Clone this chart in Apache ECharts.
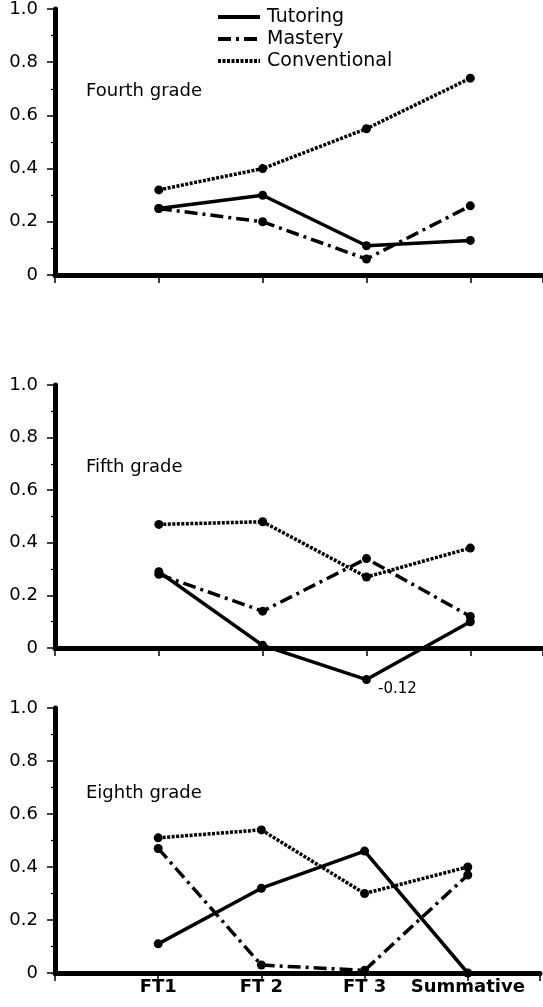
<!DOCTYPE html>
<html>
<head>
<meta charset="utf-8">
<script src="https://cdn.jsdelivr.net/npm/echarts@6/dist/echarts.min.js"></script>
<style>
  html, body { margin: 0; padding: 0; background: #fff; }
  #chart { width: 543px; height: 1007px; }
</style>
</head>
<body>
<div id="chart"></div>
<script>
// Time points on the x axis
const categories = ['FT1', 'FT 2', 'FT 3', 'Summative']
const groups = ['Tutoring', 'Mastery', 'Conventional']
const panelTitles = ['Fourth grade', 'Fifth grade', 'Eighth grade']

// Values per grade panel
const fourthTutoring = [0.25, 0.30, 0.11, 0.13]
const fourthMastery = [0.25, 0.20, 0.06, 0.26]
const fourthConventional = [0.32, 0.40, 0.55, 0.74]

const fifthTutoring = [0.29, 0.01, -0.12, 0.10]
const fifthMastery = [0.28, 0.14, 0.34, 0.12]
const fifthConventional = [0.47, 0.48, 0.27, 0.38]

const eighthTutoring = [0.11, 0.32, 0.46, 0.00]
const eighthMastery = [0.47, 0.03, 0.01, 0.37]
const eighthConventional = [0.51, 0.54, 0.30, 0.40]

const yTicks = [0, 0.2, 0.4, 0.6, 0.8, 1.0]

const panels = [
  [fourthTutoring, fourthMastery, fourthConventional],
  [fifthTutoring, fifthMastery, fifthConventional],
  [eighthTutoring, eighthMastery, eighthConventional],
]

const FONT = 'DejaVu Sans'
const lineStyles = {
  Tutoring: { color: '#000', width: 3.5, type: 'solid' },
  Mastery: { color: '#000', width: 3.5, type: [13, 5, 3, 5] },
  Conventional: { color: '#000', width: 3.5, type: [3, 1.5] },
}

// grid placement for the three stacked panels
const gridBoxes = [
  { top: 8, height: 267 },
  { top: 385, height: 263 },
  { top: 708, height: 265 },
]
const titleTops = [82, 458, 784]

const chart = echarts.init(document.getElementById('chart'))

const grids = gridBoxes.map(b => ({ left: 55, right: 0, top: b.top, height: b.height, containLabel: false }))

const xAxes = gridBoxes.map((b, i) => ({
  type: 'value',
  gridIndex: i,
  min: 0,
  max: 4.7,
  interval: 1,
  splitLine: { show: false },
  axisLine: { show: true, lineStyle: { color: '#000', width: 5 } },
  axisTick: { show: true, length: 8, lineStyle: { color: '#000', width: 1.5 } },
  axisLabel: {
    show: i === 2,
    margin: 5,
    color: '#000',
    fontFamily: FONT,
    fontSize: 18,
    fontWeight: 'bold',
    formatter: v => categories[v - 1] || '',
  },
}))

const yAxes = gridBoxes.map((b, i) => ({
  type: 'value',
  gridIndex: i,
  min: yTicks[0],
  max: yTicks[yTicks.length - 1],
  interval: 0.2,
  splitLine: { show: false },
  axisLine: { show: true, lineStyle: { color: '#000', width: 5 } },
  axisTick: { show: true, length: 8, lineStyle: { color: '#000', width: 1.5 } },
  minorTick: { show: true, splitNumber: 2, length: 4, lineStyle: { color: '#000', width: 1.2 } },
  minorSplitLine: { show: false },
  axisLabel: {
    margin: 17,
    color: '#000',
    fontFamily: FONT,
    fontSize: 18,
    formatter: v => (v === 0 ? '0' : v.toFixed(1)),
  },
}))

// empty series first so the legend icons show plain lines
const series = groups.map(g => ({
  name: g,
  type: 'line',
  data: [],
  symbol: 'none',
  lineStyle: lineStyles[g],
  itemStyle: { color: '#000' },
}))

panels.forEach((vals, p) => {
  vals.forEach((arr, k) => {
    const g = groups[k]
    series.push({
      name: g,
      type: 'line',
      xAxisIndex: p,
      yAxisIndex: p,
      clip: false,
      symbol: 'circle',
      symbolSize: 9,
      lineStyle: lineStyles[g],
      itemStyle: { color: '#000' },
      z: 3,
      data: arr.map((v, i) => {
        const pt = { value: [i + 1, v] }
        if (v < 0) {
          pt.label = {
            show: true,
            position: 'right',
            offset: [2, 10],
            formatter: String(v),
            color: '#000',
            fontFamily: FONT,
            fontSize: 15,
          }
        }
        return pt
      }),
    })
  })
})

chart.setOption({
  animation: false,
  backgroundColor: '#fff',
  title: panelTitles.map((t, i) => ({
    text: t,
    left: 86,
    top: titleTops[i],
    padding: 0,
    textStyle: { color: '#000', fontFamily: FONT, fontSize: 18, fontWeight: 'normal' },
  })),
  legend: {
    data: groups,
    orient: 'vertical',
    left: 216,
    top: 7,
    padding: 0,
    itemWidth: 42,
    itemHeight: 14,
    itemGap: 2,
    selectedMode: false,
    itemStyle: { color: 'rgba(0,0,0,0)', borderWidth: 0, opacity: 0 },
    lineStyle: { width: 4 },
    textStyle: { color: '#000', fontFamily: FONT, fontSize: 19, lineHeight: 20, padding: [0, 0, 0, 2] },
  },
  grid: grids,
  xAxis: xAxes,
  yAxis: yAxes,
  series: series,
})
</script>
</body>
</html>
